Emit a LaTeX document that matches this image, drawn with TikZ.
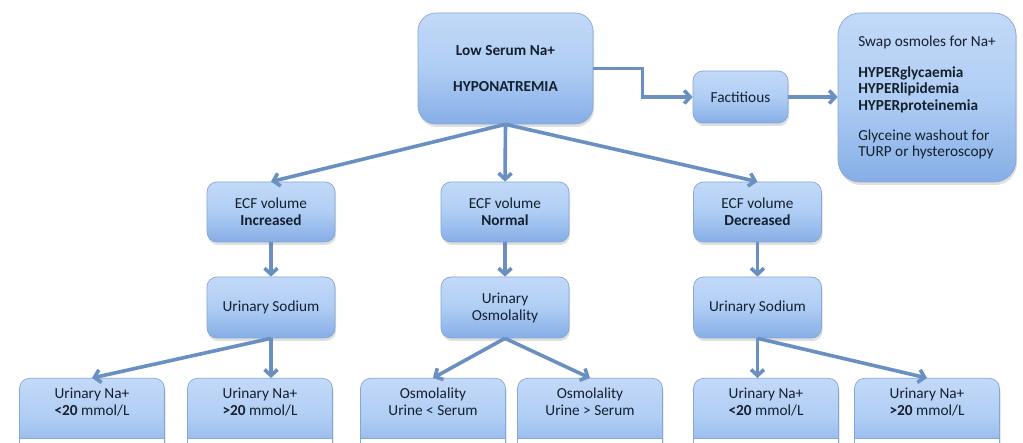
\documentclass[tikz,border=0pt]{standalone}
\usepackage{fontspec}
\setmainfont{Carlito}
\usetikzlibrary{shadows,arrows.meta}
\definecolor{boxtop}{HTML}{C3D9F8}
\definecolor{boxmid}{HTML}{AFCDF4}
\definecolor{boxbot}{HTML}{86AEE6}
\definecolor{boxline}{HTML}{84A7D6}
\definecolor{arrowcol}{HTML}{6A90C2}
\definecolor{txt}{HTML}{15202E}
\begin{document}
\begin{tikzpicture}[x=1pt,y=-1pt,
  box/.style={draw=boxline, line width=0.7pt, rounded corners=10pt,
    top color=boxtop, bottom color=boxbot, middle color=boxmid,
    drop shadow={opacity=0.25, shadow xshift=1pt, shadow yshift=-3pt},
    align=center, inner sep=0pt, text=txt, font=\fontsize{15.3}{17}\selectfont},
  midbox/.style={box, minimum width=128pt, minimum height=60pt},
  botbox/.style={box, minimum width=145pt, minimum height=80pt, anchor=north},
  botbody/.style={draw=boxline, line width=0.7pt, fill=white, minimum width=145pt,
    minimum height=40pt, anchor=north, inner sep=0pt},
  bottxt/.style={align=center, inner sep=0pt, text=txt, font=\fontsize{15.3}{17}\selectfont},
  arr/.style={draw=arrowcol, line width=3.6pt, -{Straight Barb[length=6pt,width=13pt]}},
  elbow/.style={arr, rounded corners=0pt}
]
\useasboundingbox (0,0) rectangle (1023,443);
\fill[white] (0,0) rectangle (1023,443);
\clip (0,0) rectangle (1023,443);

% top level
\node[box, rounded corners=18pt, minimum width=175pt, minimum height=111pt,
  font=\fontsize{15.3}{18}\selectfont\bfseries] (top) at (505.5,68.5)
  {Low Serum Na+\\[18pt]HYPONATREMIA};
\node[box, minimum width=95pt, minimum height=52pt] (fact) at (740.5,97) {Factitious};
\node[box, rounded corners=22pt, minimum width=178pt, minimum height=169pt,
  align=left, font=\fontsize{15.3}{16.3}\selectfont] (swap) at (927,97.5)
  {Swap osmoles for Na+\\[15pt]\textbf{HYPERglycaemia}\\\textbf{HYPERlipidemia}\\\textbf{HYPERproteinemia}\\[14pt]Glyceine washout for\\TURP or hysteroscopy};

% ECF row
\node[midbox] (ecf1) at (271,212) {ECF volume\\\textbf{Increased}};
\node[midbox] (ecf2) at (505,212) {ECF volume\\\textbf{Normal}};
\node[midbox] (ecf3) at (757.5,212) {ECF volume\\\textbf{Decreased}};

% urinary row
\node[midbox, minimum height=61pt] (us1) at (271,307.5) {Urinary Sodium};
\node[midbox, minimum height=61pt] (uo) at (505,307.5) {Urinary\\Osmolality};
\node[midbox, minimum height=61pt] (us2) at (757.5,307.5) {Urinary Sodium};

% bottom row
\foreach \n/\x in {b1/92,b2/260,b3/433,b4/590,b5/766,b6/927}{
  \node[botbox] (\n) at (\x,378) {};
  \node[botbody] (\n w) at (\x,438) {};
}
\node[bottxt] (b1t) at (92,402) {Urinary Na+\\\textbf{<20} mmol/L};
\node[bottxt] (b2t) at (260,402) {Urinary Na+\\\textbf{>20} mmol/L};
\node[bottxt] (b3t) at (433,402) {Osmolality\\Urine < Serum};
\node[bottxt] (b4t) at (590,402) {Osmolality\\Urine > Serum};
\node[bottxt] (b5t) at (766,402) {Urinary Na+\\\textbf{<20} mmol/L};
\node[bottxt] (b6t) at (927,402) {Urinary Na+\\\textbf{>20} mmol/L};

% connectors
\draw[elbow] (top.east) -- ++(49,0) |- (fact.west);
\draw[arr] (fact.east) -- (swap.west |- fact.east);
\draw[arr] (top.south) -- (ecf1.north);
\draw[arr] (top.south) -- (ecf2.north);
\draw[arr] (top.south) -- (ecf3.north);
\draw[arr] (ecf1.south) -- (us1.north);
\draw[arr] (ecf2.south) -- (uo.north);
\draw[arr] (ecf3.south) -- (us2.north);
\draw[arr] (us1.south) -- (b1.north);
\draw[arr] (us1.south) -- (us1.south |- b2.north);
\draw[arr] (uo.south) -- (b3.north);
\draw[arr] (uo.south) -- (b4.north);
\draw[arr] (us2.south) -- (us2.south |- b5.north);
\draw[arr] (us2.south) -- (b6.north);
\end{tikzpicture}
\end{document}
